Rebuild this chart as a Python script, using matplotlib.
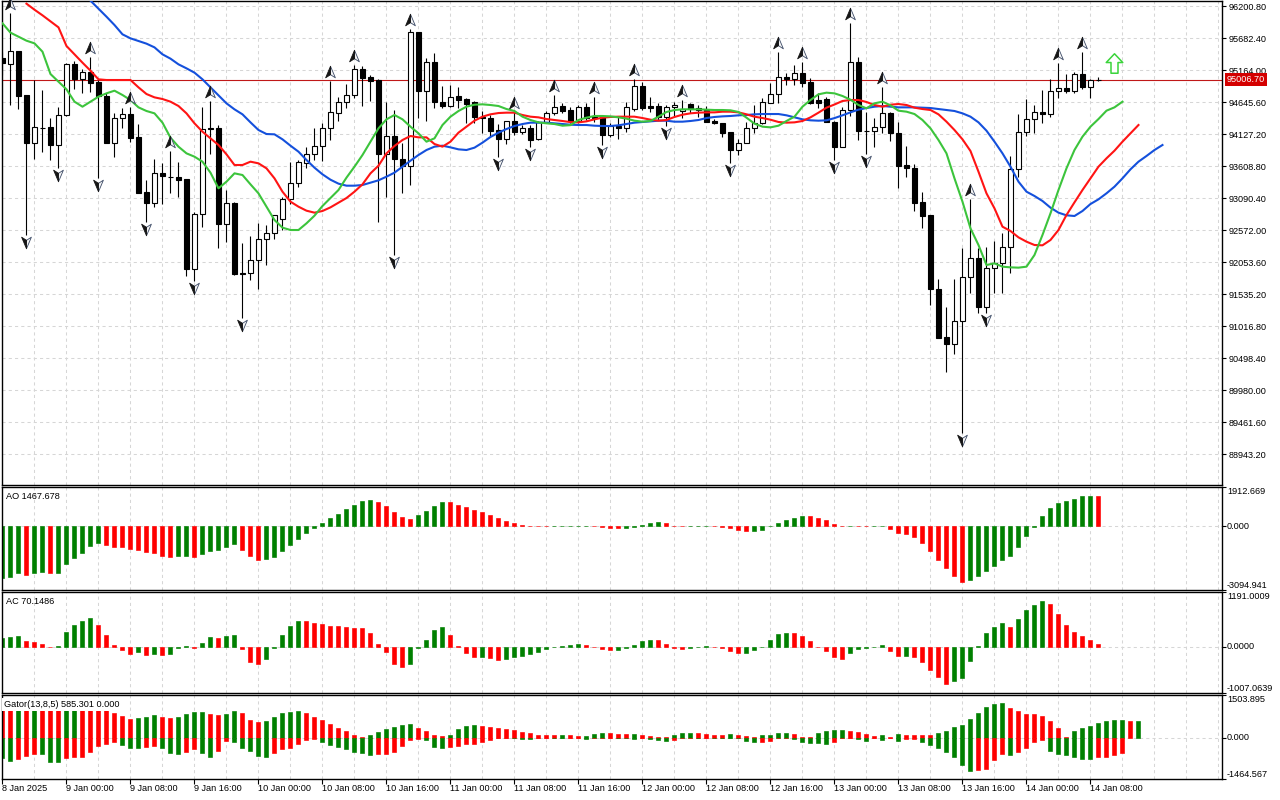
import matplotlib
matplotlib.use('Agg')
import matplotlib.pyplot as plt
from matplotlib.path import Path
from matplotlib import transforms

plt.rcParams['font.family'] = ['Liberation Sans', 'DejaVu Sans']
FS = 6.6

# ---------------- data (H1 bars, 8 Jan 16:00 .. 14 Jan 09:00) ----------------
opens = [95358, 95256, 95472, 94759, 93986, 94230, 94241, 93954, 94430, 95266,
         95023, 95137, 94975, 94743, 93986, 94381, 94451, 94084, 93183, 93005,
         93495, 93436, 93426, 93398, 91935, 92831, 94219, 94230, 92665, 93014,
         91870, 91870, 92086, 92431, 92518, 92745, 93070, 93328, 93652, 93798,
         93938, 94219, 94462, 94641, 94754, 95175, 95046, 95002, 93798, 94095,
         93717, 93614, 95775, 94829, 95294, 94641, 94586, 94743, 94694, 94650,
         94398, 94391, 94192, 94041, 94338, 94165, 94219, 94041, 94326, 94462,
         94581, 94516, 94343, 94570, 94424, 94419, 94111, 94257, 94219, 94527,
         94905, 94581, 94581, 94408, 94560, 94500, 94608, 94553, 94516, 94343,
         94300, 94155, 93868, 93977, 94219, 94300, 94634, 94770, 95046, 95013,
         95111, 94965, 94678, 94689, 94326, 93922, 94516, 95289, 94181, 94176,
         94236, 94462, 94138, 93625, 93571, 93021, 92815, 91611, 90834, 90720,
         91103, 91806, 92114, 91330, 91951, 92042, 92292, 93555, 94165, 94365,
         94488, 94446, 94824, 94868, 94829, 95099, 94893, 95002]
highs = [95456, 96083, 95480, 94760, 95002, 94840, 94386, 94565, 95272, 95310,
         95175, 95370, 95002, 94786, 94462, 94543, 94565, 94289, 93382, 93722,
         93652, 93852, 93669, 93400, 92868, 94570, 94662, 94273, 93220, 93020,
         92357, 92475, 92690, 92653, 92820, 93112, 93669, 93706, 93922, 94219,
         94310, 94986, 94732, 94937, 95245, 95229, 95083, 95018, 94641, 94516,
         93977, 95823, 95780, 95354, 95444, 94905, 94921, 94893, 94706, 94655,
         94500, 94435, 94289, 94338, 94484, 94273, 94273, 94343, 94500, 94759,
         94625, 94570, 94597, 94625, 94732, 94420, 94300, 94419, 94641, 95018,
         94975, 94722, 94625, 94597, 94641, 94678, 94634, 94597, 94581, 94365,
         94302, 94157, 94041, 94326, 94597, 94706, 94948, 95461, 95120, 95245,
         95298, 95029, 94796, 94732, 94330, 94560, 95930, 95370, 94488, 94381,
         94884, 94488, 94317, 93933, 93636, 93183, 92820, 91773, 91330, 91773,
         92276, 93074, 92276, 92292, 92399, 92528, 93771, 94446, 94689, 94597,
         94840, 95018, 95272, 95099, 95137, 95461, 95013, 95056]
lows = [95083, 94597, 94532, 92491, 93722, 93836, 93706, 93581, 94420, 94851,
        94786, 94808, 93410, 93975, 93760, 94230, 94003, 93167, 92707, 92940,
        92988, 93176, 93111, 91827, 91751, 92616, 93803, 92285, 92373, 91850,
        91141, 91762, 91611, 92005, 92421, 92572, 92993, 93274, 93571, 93706,
        93690, 94030, 94343, 94543, 94705, 94586, 94667, 92707, 93111, 92167,
        93167, 93301, 94381, 94343, 94553, 94553, 94569, 94553, 94300, 94300,
        94148, 94100, 93755, 93965, 94111, 94122, 93917, 94030, 94300, 94435,
        94462, 94300, 94310, 94354, 94317, 93949, 94084, 94041, 94165, 94505,
        94516, 94488, 94354, 94257, 94419, 94381, 94462, 94408, 94326, 94289,
        94074, 93652, 93787, 93975, 94138, 94289, 94629, 94634, 94921, 94921,
        94884, 94608, 94543, 94326, 93706, 93917, 94419, 94030, 93803, 93922,
        94148, 94019, 93247, 93436, 92885, 92600, 91357, 90817, 90277, 90558,
        89279, 91546, 91232, 91222, 91556, 91556, 91880, 93436, 94095, 94148,
        94300, 94408, 94715, 94796, 94796, 94851, 94715, 94986]
closes = [95277, 95472, 94748, 93986, 94241, 94225, 93954, 94430, 95256, 95013,
          95132, 94958, 94743, 93986, 94381, 94446, 94067, 93176, 93005, 93490,
          93447, 93430, 93382, 91935, 92831, 94208, 94215, 92665, 93005, 91859,
          91866, 92086, 92421, 92518, 92815, 93070, 93338, 93669, 93798, 93938,
          94219, 94479, 94641, 94754, 95175, 95039, 94991, 93798, 94095, 93717,
          93614, 95775, 94829, 95294, 94650, 94586, 94732, 94678, 94613, 94398,
          94381, 94181, 94041, 94338, 94165, 94219, 94030, 94326, 94462, 94570,
          94505, 94343, 94570, 94381, 94381, 94111, 94257, 94219, 94560, 94905,
          94543, 94543, 94408, 94560, 94597, 94540, 94532, 94516, 94326, 94300,
          94148, 93868, 93977, 94229, 94300, 94641, 94770, 95046, 95013, 95111,
          94958, 94634, 94634, 94326, 93922, 94516, 95289, 94181, 94176, 94236,
          94462, 94138, 93614, 93571, 93014, 92804, 91611, 90827, 90720, 91103,
          91806, 92114, 91330, 91951, 92032, 92292, 93555, 94165, 94365, 94488,
          94446, 94824, 94868, 94829, 95094, 94893, 95002, 95006.7]
last_price = 95006.70

# Alligator (already shifted forward): lips / teeth / jaw, with first bar index
lips_start = 0
lips = [95920, 95769, 95704, 95639, 95596, 95461, 95099, 94975, 94851, 94651,
        94570, 94651, 94732, 94786, 94829, 94759, 94678, 94559, 94500, 94462,
        94311, 94068, 93922, 93814, 93760, 93679, 93501, 93247, 93355, 93490,
        93463, 93312, 93166, 92950, 92734, 92610, 92572, 92572, 92680, 92804,
        92961, 93090, 93220, 93420, 93598, 93787, 94003, 94219, 94365, 94435,
        94365, 94246, 94138, 94003, 94057, 94273, 94408, 94500, 94570, 94602,
        94608, 94597, 94581, 94532, 94500, 94408, 94354, 94316, 94300, 94289,
        94262, 94271, 94354, 94392, 94419, 94419, 94413, 94397, 94376, 94343,
        94327, 94338, 94408, 94484, 94516, 94527, 94527, 94527, 94521, 94516,
        94516, 94511, 94484, 94392, 94295, 94246, 94235, 94262, 94338, 94408,
        94570, 94678, 94770, 94797, 94786, 94743, 94683, 94597, 94543, 94624,
        94651, 94592, 94505, 94489, 94451, 94354, 94219, 94030, 93814, 93409,
        93031, 92599, 92329, 92005, 92032, 91978, 91967, 91962, 91978, 92167,
        92491, 92842, 93220, 93571, 93868, 94084, 94246, 94370, 94505, 94559,
        94651]
teeth_start = 3
teeth = [96239, 96141, 96050, 95952, 95855, 95553, 95418, 95283, 95153, 95013,
         95002, 95002, 95002, 95002, 94883, 94775, 94721, 94694, 94651, 94581,
         94462, 94300, 94165, 94057, 93949, 93798, 93625, 93625, 93679, 93652,
         93571, 93409, 93193, 93031, 92950, 92885, 92853, 92880, 92939, 93015,
         93090, 93193, 93312, 93490, 93614, 93814, 93933, 94030, 94095, 94073,
         94073, 93965, 93922, 94003, 94149, 94246, 94343, 94408, 94446, 94467,
         94473, 94473, 94435, 94408, 94397, 94370, 94354, 94338, 94320, 94316,
         94332, 94365, 94392, 94403, 94408, 94408, 94408, 94386, 94359, 94343,
         94354, 94403, 94440, 94462, 94473, 94478, 94478, 94489, 94489, 94478,
         94446, 94408, 94386, 94359, 94322, 94311, 94316, 94338, 94397, 94473,
         94554, 94605, 94662, 94678, 94678, 94646, 94597, 94570, 94602, 94613,
         94597, 94554, 94532, 94516, 94446, 94327, 94192, 94041, 93852, 93517,
         93166, 92923, 92626, 92556, 92453, 92383, 92329, 92324, 92410, 92572,
         92815, 93020, 93220, 93409, 93598, 93733, 93857, 94003, 94138, 94273]
jaw_start = 11
jaw = [96287, 96158, 96028, 95893, 95742, 95677, 95634, 95591, 95531, 95418,
       95348, 95256, 95191, 95121, 95013, 94883, 94754, 94624, 94527, 94446,
       94316, 94192, 94127, 94122, 94041, 93938, 93841, 93706, 93582, 93474,
       93387, 93323, 93290, 93290, 93301, 93339, 93377, 93436, 93501, 93598,
       93695, 93787, 93868, 93922, 93938, 93911, 93879, 93868, 93906, 93987,
       94079, 94149, 94208, 94257, 94289, 94311, 94311, 94311, 94300, 94289,
       94278, 94273, 94273, 94262, 94257, 94257, 94268, 94289, 94311, 94322,
       94332, 94343, 94343, 94327, 94327, 94338, 94354, 94386, 94403, 94413,
       94419, 94430, 94435, 94446, 94451, 94451, 94451, 94430, 94397, 94365,
       94349, 94343, 94349, 94385, 94430, 94478, 94522, 94548, 94570, 94581,
       94570, 94559, 94559, 94559, 94554, 94548, 94532, 94516, 94500, 94462,
       94408, 94316, 94181, 94003, 93814, 93598, 93355, 93193, 93123, 93042,
       92934, 92853, 92810, 92799, 92880, 92993, 93069, 93166, 93274, 93409,
       93555, 93679, 93771, 93868, 93949]

fractal_up = [1, 11, 16, 21, 26, 41, 44, 51, 64, 69, 74, 79, 85, 97, 100, 106, 110, 121, 132, 135]
fractal_down = [3, 7, 12, 18, 24, 30, 49, 62, 66, 75, 83, 91, 104, 108, 120, 123]
signal_index = 139
signal_price = 95273

ao = [-2521, -2455, -2292, -2357, -2292, -2243, -2292, -2280, -1850, -1555,
      -1310, -966, -819, -884, -982, -1015, -1120, -1135, -1260, -1310,
      -1424, -1506, -1457, -1445, -1506, -1359, -1179, -1130, -1015, -851,
      -1130, -1457, -1621, -1610, -1506, -1211, -900, -622, -311, -65,
      164, 409, 606, 835, 1031, 1244, 1277, 1195, 999, 704,
      442, 344, 540, 737, 982, 1179, 1170, 1031, 933, 786,
      688, 540, 393, 246, 147, 49, 16, 12, 8, 12,
      18, 24, 32, 35, 5, -15, -60, -65, -60, -15,
      65, 147, 196, 147, 40, 30, 35, 38, 40, 20,
      -30, -82, -196, -229, -225, -164, 0, 164, 295, 393,
      491, 480, 393, 295, 98, 5, 16, 8, 4, 6,
      10, -131, -327, -393, -524, -819, -1178, -1621, -2046, -2406,
      -2701, -2603, -2406, -2161, -1915, -1621, -1457, -1015, -475, -16,
      491, 868, 1113, 1228, 1326, 1460, 1490, 1467.678]
ac = [196, 211, 240, 124, 102, 58, -15, 22, 320, 473,
      560, 632, 473, 254, 44, -65, -153, -109, -182, -153,
      -182, -153, -36, 22, -36, 80, 211, 189, 240, 245,
      -51, -327, -371, -269, -36, 254, 458, 565, 560, 523,
      494, 458, 455, 436, 414, 410, 305, 58, -124, -371,
      -451, -371, -29, 153, 371, 436, 262, 15, -145, -225,
      -218, -240, -284, -262, -233, -196, -153, -109, -58, -15,
      15, 36, 58, 36, -7, -58, -80, -75, -36, 36,
      131, 153, 150, 65, -36, -58, -29, -15, 15, -7,
      -29, -102, -145, -140, -80, -15, 153, 284, 305, 300,
      240, 131, -7, -102, -233, -276, -145, -58, -29, -15,
      36, -102, -211, -205, -233, -342, -516, -669, -807, -756,
      -691, -320, 15, 305, 436, 523, 436, 611, 807, 916,
      1003, 938, 720, 480, 327, 240, 153, 70.1486]
gator_up = [1271, 1250, 1260, 1240, 1255, 1235, 1215, 1190, 1200, 1210,
            1180, 1160, 1140, 1020, 883, 765, 671, 706, 742, 800,
            730, 694, 730, 836, 910, 920, 836, 800, 836, 942,
            859, 624, 553, 600, 730, 871, 918, 925, 871, 730,
            624, 483, 341, 235, 94, 24, 94, 200, 318, 390,
            447, 471, 330, 224, 80, 55, 94, 294, 400, 435,
            400, 365, 330, 294, 259, 188, 153, 82, 80, 78,
            85, 80, 47, 52, 118, 153, 150, 118, 115, 120,
            82, 47, 24, 10, 82, 153, 155, 150, 118, 82,
            80, 118, 82, 47, 30, 82, 85, 153, 158, 118,
            30, 20, 153, 224, 259, 265, 224, 188, 118, 47,
            82, 35, 118, 82, 80, 78, 76, 153, 224, 365,
            435, 647, 859, 1071, 1177, 1212, 1036, 930, 824, 820,
            753, 577, 330, 20, 224, 330, 400, 506, 577, 612,
            618, 580, 585.301]
gator_down = [-730, -812, -742, -647, -577, -585, -847, -850, -706, -700,
              -695, -494, -282, -224, -141, -259, -353, -355, -318, -282,
              -353, -553, -588, -518, -412, -553, -694, -459, -118, -141,
              -353, -459, -636, -671, -553, -412, -353, -235, -82, -47,
              -141, -259, -318, -412, -494, -553, -612, -590, -585, -520,
              -294, -94, -59, -82, -330, -377, -330, -306, -235, -225,
              -153, -82, -24, -5, -24, -47, -59, -24, -10, -24,
              -28, -12, -6, -59, -24, -5, -4, -24, -26, -35,
              -24, -59, -70, -118, -70, -24, -12, -20, -5, -24,
              -26, -28, -30, -118, -153, -141, -118, -24, -20, -59,
              -153, -188, -190, -224, -153, -24, -10, -47, -118, -24,
              -82, -20, -118, -59, -47, -153, -259, -365, -506, -682,
              -965, -1177, -1142, -1118, -800, -577, -612, -506, -365, -153,
              -80, -471, -577, -612, -682, -753, -755, -682, -680, -612,
              -541]

price_ticks = [96200.80, 95682.40, 95164.00, 94645.60, 94127.20, 93608.80, 93090.40,
               92572.00, 92053.60, 91535.20, 91016.80, 90498.40, 89980.00, 89461.60, 88943.20]
ao_range = (-3094.941, 1912.669)
ac_range = (-1007.0639, 1191.0009)
gator_range = (-1464.567, 1503.895)
ao_labels = ['1912.669', '0.000', '-3094.941']
ac_labels = ['1191.0009', '0.0000', '-1007.0639']
gator_labels = ['1503.895', '0.000', '-1464.567']
time_idx = [0, 8, 16, 24, 32, 40, 48, 56, 64, 72, 80, 88, 96, 104, 112, 120, 128, 136]
time_labels = ['8 Jan 2025', '9 Jan 00:00', '9 Jan 08:00', '9 Jan 16:00', '10 Jan 00:00',
               '10 Jan 08:00', '10 Jan 16:00', '11 Jan 00:00', '11 Jan 08:00', '11 Jan 16:00',
               '12 Jan 00:00', '12 Jan 08:00', '12 Jan 16:00', '13 Jan 00:00', '13 Jan 08:00',
               '13 Jan 16:00', '14 Jan 00:00', '14 Jan 08:00']

# ---------------- layout ----------------
W, H = 1280, 800
fig = plt.figure(figsize=(12.8, 8), dpi=100)
fig.patch.set_facecolor('white')


def rect(top, bottom):
    return [2 / W, 1 - bottom / H, 1220 / W, (bottom - top) / H]


ax = fig.add_axes(rect(1, 485))
ax_ao = fig.add_axes(rect(487, 590))
ax_ac = fig.add_axes(rect(592, 693))
ax_g = fig.add_axes(rect(695, 779))

GRID = dict(color='#d6d6d6', lw=0.75, ls=(0, (3, 3)), zorder=0.5)
XMIN, XMAX = -0.06, 152.44
GREEN, RED = '#008000', '#ff0000'

for a in (ax, ax_ao, ax_ac, ax_g):
    a.set_xlim(XMIN, XMAX)
    a.set_facecolor('white')
    for gx in range(0, 153, 4):
        a.axvline(gx, **GRID)
    for s in a.spines.values():
        s.set_linewidth(1.0)
        s.set_color('black')
    a.tick_params(axis='x', bottom=False, labelbottom=False, top=False)
    a.yaxis.tick_right()
    a.tick_params(axis='y', direction='out', length=3, width=0.8, pad=2,
                  labelsize=FS, right=True, left=False, colors='black')

# ---------------- main: candles ----------------
n = len(opens)
idx = list(range(n))
ax.set_ylim(88441, 96282)
ax.set_yticks(price_ticks)
ax.set_yticklabels([f'{v:.2f}' for v in price_ticks])
for v in price_ticks:
    ax.axhline(v, **GRID)

ax.axhline(last_price, color='#c01818', lw=0.8, zorder=1.2)
ax.vlines(idx, lows, highs, color='black', lw=0.8, zorder=2)
body_bottom = [min(o, c) for o, c in zip(opens, closes)]
body_height = [abs(c - o) for o, c in zip(opens, closes)]
body_face = ['white' if c >= o else 'black' for o, c in zip(opens, closes)]
ax.bar(idx, body_height, bottom=body_bottom, width=0.6, color=body_face,
       edgecolor='black', linewidth=0.8, zorder=3)

ax.plot(range(jaw_start, jaw_start + len(jaw)), jaw, color='#1450dc', lw=1.5, zorder=4)
ax.plot(range(teeth_start, teeth_start + len(teeth)), teeth, color='#ff1414', lw=1.5, zorder=4)
ax.plot(range(lips_start, lips_start + len(lips)), lips, color='#3cc43c', lw=1.5, zorder=4)

# fractal arrowheads: dark left half, light right half
codes4 = [Path.MOVETO, Path.LINETO, Path.LINETO, Path.CLOSEPOLY]
up_left = Path([(0, 1), (0, -0.35), (-0.78, -0.85), (0, 1)], codes4)
up_right = Path([(0, 1), (0.78, -0.85), (0, -0.35), (0, 1)], codes4)
dn_left = Path([(0, -1), (0, 0.35), (-0.78, 0.85), (0, -1)], codes4)
dn_right = Path([(0, -1), (0.78, 0.85), (0, 0.35), (0, -1)], codes4)
up_tr = transforms.offset_copy(ax.transData, fig=fig, x=0, y=9, units='dots')
dn_tr = transforms.offset_copy(ax.transData, fig=fig, x=0, y=-7, units='dots')
for pts, vals, tr, left, right in ((fractal_up, [highs[i] for i in fractal_up], up_tr, up_left, up_right),
                                   (fractal_down, [lows[i] for i in fractal_down], dn_tr, dn_left, dn_right)):
    ax.plot(pts, vals, ls='none', marker=right, ms=9, mfc='#f4f4f4', mec='#3c4a66', mew=0.6,
            transform=tr, zorder=5, clip_on=False)
    ax.plot(pts, vals, ls='none', marker=left, ms=9, mfc='#151515', mec='#151515', mew=0.6,
            transform=tr, zorder=5.1, clip_on=False)

sig_path = Path([(0, 1), (0.85, 0.1), (0.36, 0.1), (0.36, -1), (-0.36, -1), (-0.36, 0.1),
                 (-0.85, 0.1), (0, 1)],
                [Path.MOVETO] + [Path.LINETO] * 6 + [Path.CLOSEPOLY])
ax.plot([signal_index], [signal_price], ls='none', marker=sig_path, ms=14,
        mfc='white', mec='#3ad43a', mew=1.1, zorder=6)

ax.annotate(f'{last_price:.2f}', xy=(1, last_price), xycoords=('axes fraction', 'data'),
            xytext=(5, 0), textcoords='offset pixels', ha='left', va='center',
            fontsize=FS, color='white', annotation_clip=False, zorder=10,
            bbox=dict(boxstyle='square,pad=0.2', fc='#d40000', ec='none'))


# ---------------- sub-windows ----------------
def up_colors(vals, first):
    cols = [first]
    for i in range(1, len(vals)):
        cols.append(GREEN if vals[i] > vals[i - 1] else RED)
    return cols


def down_colors(vals, first):
    cols = [first]
    for i in range(1, len(vals)):
        cols.append(GREEN if abs(vals[i]) > abs(vals[i - 1]) else RED)
    return cols


def side_labels(a, rng, labels):
    vals = [rng[1], 0.0, rng[0]]
    a.set_ylim(rng)
    a.set_yticks(vals)
    a.set_yticklabels(['', '', ''])
    for v, lab, va in zip(vals, labels, ['top', 'center', 'bottom']):
        a.annotate(lab, xy=(1, v), xycoords=('axes fraction', 'data'), xytext=(5, 0),
                   textcoords='offset pixels', ha='left', va=va, fontsize=FS,
                   annotation_clip=False)
    a.axhline(0, **GRID)


def hist(a, vals, cols):
    a.bar(range(len(vals)), vals, width=0.5, color=cols, edgecolor=cols,
          linewidth=0.45, zorder=2)


side_labels(ax_ao, ao_range, ao_labels)
hist(ax_ao, ao, up_colors(ao, GREEN))

side_labels(ax_ac, ac_range, ac_labels)
hist(ax_ac, ac, up_colors(ac, GREEN))

side_labels(ax_g, gator_range, gator_labels)
hist(ax_g, gator_up, up_colors(gator_up, RED))
hist(ax_g, gator_down, down_colors(gator_down, GREEN))

ax_g.set_xticks(time_idx)
ax_g.set_xticklabels(time_labels, ha='left', fontsize=FS)
ax_g.tick_params(axis='x', bottom=True, labelbottom=True, direction='out', length=3.6,
                 width=0.8, pad=-0.3)

fig.text(6 / W, 1 - 496.7 / H, f'AO {ao[-1]:.3f}', fontsize=FS, ha='left', va='center')
fig.text(6 / W, 1 - 601.7 / H, f'AC {ac[-1]:.4f}', fontsize=FS, ha='left', va='center')
fig.text(3.5 / W, 1 - 704.3 / H, f'Gator(13,8,5) {gator_up[-1]:.3f} 0.000', fontsize=FS,
         ha='left', va='center', zorder=20,
         bbox=dict(boxstyle='square,pad=0.2', fc='white', ec='none'))

fig.savefig('out.png', dpi=100, facecolor='white')
